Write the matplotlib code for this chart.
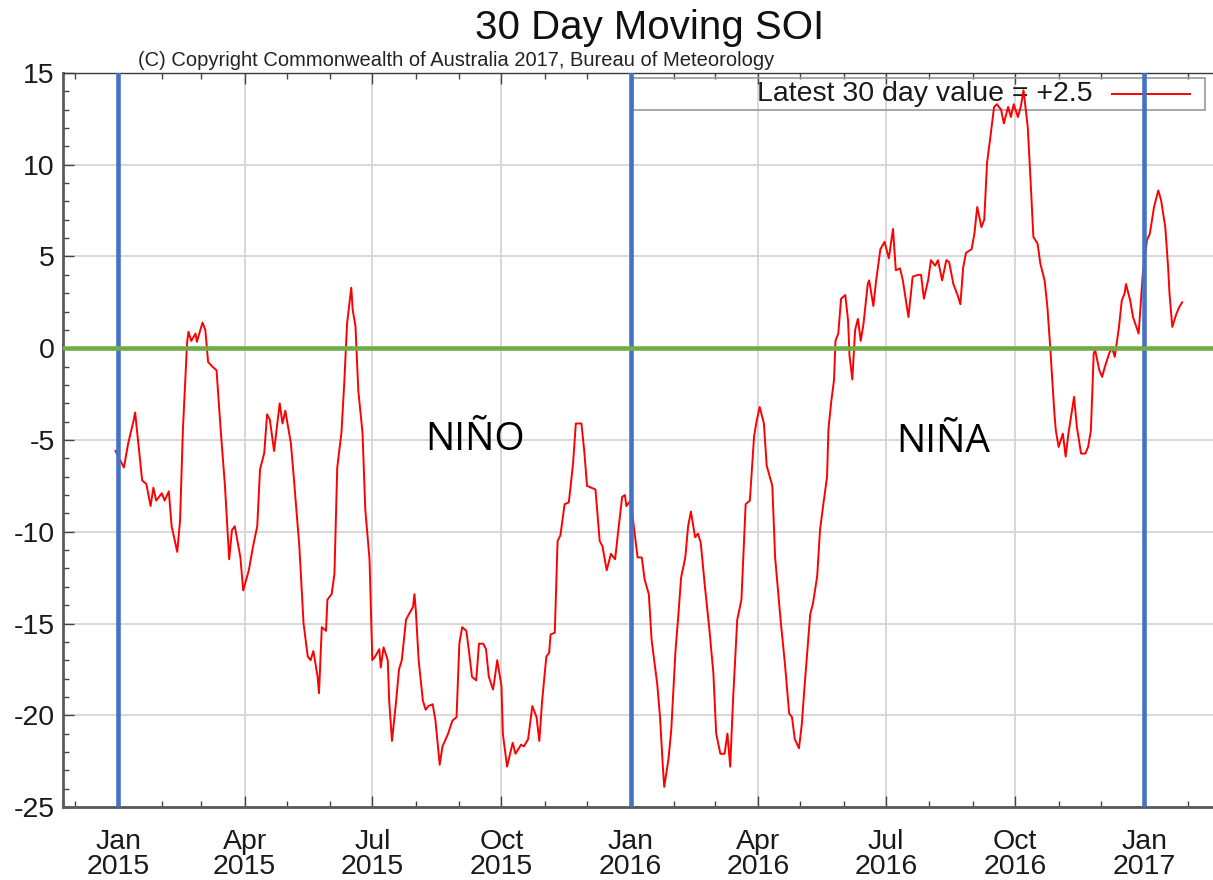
import numpy as np
import pandas as pd
import matplotlib
matplotlib.use('Agg')
import matplotlib.pyplot as plt
import matplotlib.dates as mdates
from matplotlib.patches import Rectangle
from matplotlib.lines import Line2D

# ---------------- data ----------------
start_date = '2015-01-01'
# days since 2015-01-01
days = [-2, 0, 4, 7, 11, 12, 14, 17, 20, 23, 25, 27, 31, 33, 36, 38, 42, 44, 46, 49,
        50, 52, 55, 56, 60, 62, 64, 67, 70, 73, 76, 79, 81, 83, 87, 89, 93, 96, 99, 101,
        104, 106, 108, 111, 113, 115, 117, 119, 123, 125, 129, 132,
        135, 137, 139, 142, 143, 145, 148, 149, 152, 154, 156, 159, 161, 163, 166, 167, 169, 171,
        174, 176, 179, 181, 183, 186, 187, 189, 192, 193, 195, 198, 200, 202, 205, 207, 210, 211,
        212, 214, 217, 219, 221, 224, 226, 229, 231, 235, 238, 241, 243, 245, 248, 250, 252, 255,
        257, 260, 262, 264, 267, 268, 270, 273, 274, 277,
        281, 283, 287, 289, 292, 295, 298, 300, 302, 305, 307, 308, 311, 313, 315, 318, 321, 324,
        326, 330, 332, 334, 340, 343, 345, 348, 351, 354, 356, 359, 361, 362, 365, 367, 370, 373,
        375, 378, 380, 384, 386, 388, 389, 392, 394, 397, 399, 401, 404, 406, 408, 411, 413, 415,
        418, 421, 424, 426, 429, 432, 434, 436, 438, 441, 444, 447, 450,
        453, 455, 457, 460, 462, 466, 468, 472, 475, 478, 480, 482, 485, 487, 489, 493, 495, 498,
        500, 502, 505, 506, 508, 510, 511, 513, 515, 518, 520, 521, 523, 525, 527, 529, 531, 534,
        535, 538, 540, 543, 546, 549, 552, 554, 557, 559, 561, 563, 566, 570, 572, 574, 577, 579,
        582, 584, 587, 590, 592, 595, 598, 600,
        602, 604, 608, 610, 612, 615, 617, 619, 622, 624, 626, 629, 631, 634, 636, 638, 641, 643,
        645, 648, 650, 652, 655, 657, 660, 662, 664, 667, 668, 670, 673, 675, 677, 681, 683, 686,
        689, 691, 693, 695, 696, 699, 701, 703, 706, 708, 710, 713, 715, 717, 718, 721, 723, 727,
        729, 730, 733, 735, 738, 741, 743, 746, 748, 749, 751, 754, 756, 758]
soi = [-5.6, -5.9, -6.5, -5.2, -3.9, -3.5, -5.0, -7.2, -7.4, -8.6, -7.6, -8.3, -7.9, -8.3, -7.8, -9.7, -11.1, -9.4, -4.5, 0.3,
       0.9, 0.4, 0.8, 0.35, 1.4, 1.0, -0.75, -1.0, -1.2, -4.5, -7.5, -11.5, -9.9, -9.7, -11.4, -13.2, -12.1, -10.8, -9.7, -6.6,
       -5.7, -3.6, -3.9, -5.6, -4.3, -3.0, -4.1, -3.4, -5.2, -7.0, -10.8, -15.0,
       -16.8, -17.0, -16.5, -17.9, -18.8, -15.2, -15.4, -13.7, -13.4, -12.3, -6.5, -4.6, -1.9, 1.35, 3.3, 2.1, 1.2, -2.3,
       -4.6, -8.8, -11.5, -17.0, -16.8, -16.4, -17.4, -16.3, -17.0, -19.2, -21.4, -19.2, -17.5, -17.0, -14.8, -14.5, -14.1, -13.4,
       -14.3, -17.0, -19.2, -19.7, -19.5, -19.4, -20.3, -22.7, -21.7, -21.0, -20.3, -20.1, -16.1, -15.2, -15.4, -16.6, -17.9, -18.1,
       -16.1, -16.1, -16.4, -17.9, -18.6, -18.1, -17.0, -18.4, -21.0, -22.8,
       -21.5, -22.1, -21.6, -21.7, -21.3, -19.5, -20.1, -21.4, -19.2, -16.8, -16.6, -15.6, -15.5, -10.5, -10.2, -8.5, -8.4, -6.3,
       -4.1, -4.1, -5.6, -7.5, -7.7, -10.5, -10.8, -12.1, -11.2, -11.5, -10.1, -8.1, -8.0, -8.6, -8.3, -9.5, -11.4, -11.4,
       -12.6, -13.4, -15.9, -18.3, -20.1, -22.8, -23.9, -22.4, -20.8, -16.5, -14.6, -12.5, -11.4, -9.7, -8.9, -10.3, -10.1, -10.6,
       -13.0, -15.2, -17.7, -21.0, -22.1, -22.1, -21.0, -22.8, -19.2, -14.8, -13.7, -8.5, -8.3,
       -4.8, -3.9, -3.2, -4.1, -6.4, -7.5, -11.4, -14.9, -17.2, -19.9, -20.1, -21.3, -21.8, -20.5, -18.4, -14.5, -13.9, -12.4,
       -9.9, -8.7, -7.0, -4.4, -2.9, -1.7, 0.4, 0.8, 2.7, 2.9, 1.5, -0.4, -1.7, 1.0, 1.6, 0.4, 1.35, 3.5,
       3.7, 2.3, 3.7, 5.4, 5.8, 4.9, 6.5, 4.25, 4.35, 3.7, 2.7, 1.7, 3.9, 4.0, 4.0, 2.7, 3.7, 4.8,
       4.5, 4.8, 3.7, 4.8, 4.7, 3.5, 2.9, 2.4,
       4.4, 5.2, 5.4, 6.25, 7.7, 6.6, 7.0, 10.1, 11.9, 13.15, 13.3, 13.0, 12.25, 13.15, 12.6, 13.3, 12.6, 13.15,
       14.06, 12.06, 9.16, 6.07, 5.7, 4.6, 3.7, 2.25, 0.07, -3.56, -4.47, -5.38, -4.65, -5.9, -4.65, -2.65, -4.29, -5.74,
       -5.74, -5.38, -4.47, -0.29, -0.1, -1.2, -1.56, -1.0, -0.29, 0.07, -0.47, 1.16, 2.6, 2.98, 3.5, 2.6, 1.7, 0.8,
       2.98, 4.07, 5.9, 6.25, 7.7, 8.6, 8.07, 6.6, 4.43, 2.98, 1.16, 1.9, 2.25, 2.5]

year_marks = ['2015-01-01', '2016-01-01', '2017-01-01']
y_ticks = [15, 10, 5, 0, -5, -10, -15, -20, -25]
regime_labels = ['NIÑO', 'NIÑA']
regime_days = [254, 588]
regime_values = [-5.0, -5.1]
title_text = '30 Day Moving SOI'
copyright_text = '(C) Copyright Commonwealth of Australia 2017, Bureau of Meteorology'
legend_label = 'Latest 30 day value = +2.5'

# ---------------- figure ----------------
plt.rcParams['font.family'] = ['Liberation Sans', 'DejaVu Sans']

W, H = 1213, 880
fig = plt.figure(figsize=(W / 100, H / 100), dpi=100)
fig.patch.set_facecolor('white')

ax_l, ax_r, ax_t, ax_b = 63, 1213, 73, 807
ax = fig.add_axes([ax_l / W, (H - ax_b) / H, (ax_r - ax_l) / W, (ax_b - ax_t) / H])

t0 = pd.Timestamp(start_date)
dates = t0 + pd.to_timedelta(days, unit='D')

ax.plot(dates, soi, color='#ff0000', lw=1.4, zorder=3, solid_joinstyle='round')

for d in year_marks:
    ax.axvline(pd.Timestamp(d), color='#4472C4', lw=3.3, zorder=4)
ax.axhline(0, color='#70AD47', lw=3.3, zorder=4)

ax.set_ylim(-25, 15)
ax.set_xlim(t0 - pd.Timedelta(days=39.4), t0 + pd.Timedelta(days=780))

ax.set_yticks(y_ticks)
ax.set_yticklabels([str(v) for v in y_ticks])
ax.yaxis.set_minor_locator(matplotlib.ticker.MultipleLocator(1))
ax.xaxis.set_major_locator(mdates.MonthLocator(bymonth=[1, 4, 7, 10]))
ax.xaxis.set_major_formatter(mdates.DateFormatter('%b\n%Y'))
ax.xaxis.set_minor_locator(mdates.MonthLocator())

ax.tick_params(axis='both', which='both', direction='in', colors='#444444',
               labelcolor='#1a1a1a', labelsize=20.5)
ax.tick_params(axis='x', which='both', top=True, bottom=True, pad=16)
ax.tick_params(axis='y', which='both', left=True, right=False, pad=6)
ax.tick_params(which='major', length=8, width=1.0)
ax.tick_params(which='minor', length=4, width=1.0)

ax.grid(which='major', color='#d6d6d6', lw=1.3, zorder=0)
ax.set_axisbelow(True)

for s in ['left', 'bottom']:
    ax.spines[s].set_color('#5a5a5a')
    ax.spines[s].set_linewidth(2.0)
ax.spines['top'].set_color('#3a3a3a')
ax.spines['top'].set_linewidth(1.0)
ax.spines['right'].set_visible(False)

for lab, d, v in zip(regime_labels, regime_days, regime_values):
    ax.text(t0 + pd.Timedelta(days=d), v, lab, ha='center', va='center',
            fontsize=28, family=['Open Sans', 'DejaVu Sans'], color='black', zorder=5)

# legend box (gnuplot style: text left of sample line)
axw = ax_r - ax_l
axh = ax_b - ax_t
def fx(px):
    return (px - ax_l) / axw
def fy(py):
    return (ax_b - py) / axh

ax.add_patch(Rectangle((fx(633), fy(110)), fx(1205) - fx(633), fy(78) - fy(110),
                       transform=ax.transAxes, facecolor='none', edgecolor='#9a9a9a',
                       lw=1.2, zorder=2))
ax.text(fx(1093), fy(94), legend_label, transform=ax.transAxes, ha='right', va='center',
        fontsize=20.5, color='#1a1a1a', zorder=2)
ax.add_line(Line2D([fx(1112), fx(1190)], [fy(94), fy(94)], transform=ax.transAxes,
                   color='#ff0000', lw=1.4, zorder=2))

fig.text(650 / W, 1 - 28 / H, title_text, ha='center', va='center', fontsize=29, color='#111111')
fig.text(456 / W, 1 - 60 / H, copyright_text, ha='center', va='center', fontsize=14.5, color='#222222')

fig.canvas.draw()
for lab in ax.get_xticklabels():
    lab.set_linespacing(0.95)

fig.savefig('out.png', dpi=100, facecolor='white')
